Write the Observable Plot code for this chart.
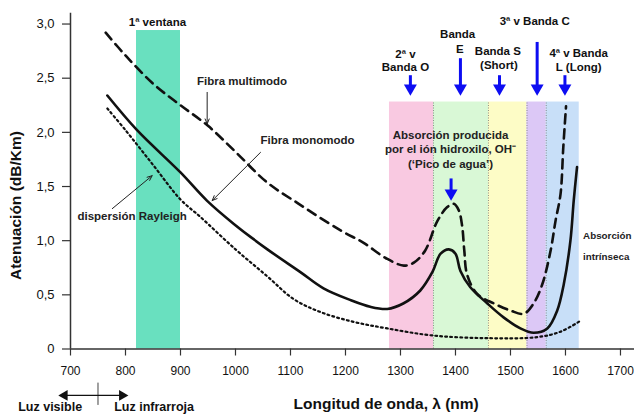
<!DOCTYPE html>
<html>
<head>
<meta charset="utf-8">
<script src="https://cdn.jsdelivr.net/npm/d3@7"></script>
<script src="https://cdn.jsdelivr.net/npm/@observablehq/plot@0.6"></script>
<style>
  html, body { margin: 0; padding: 0; background: #fff; }
  #chart svg { display: block; }
</style>
</head>
<body>
<div id="chart"></div>
<script>
// ---- Data ----
const xTicks = [700, 800, 900, 1000, 1100, 1200, 1300, 1400, 1500, 1600, 1700];
const yTicks = [0, 0.5, 1.0, 1.5, 2.0, 2.5, 3.0];

// Fibra multimodo (dashed)
const multiNm = [764, 800, 850, 900, 950, 1000, 1057, 1115, 1170, 1200, 1233, 1273, 1306, 1325, 1345, 1367, 1385, 1397, 1406, 1412, 1416, 1421, 1439, 1470, 1500, 1524, 1542, 1558, 1573, 1582, 1591, 1596, 1601];
const multiDb = [2.92, 2.71, 2.45, 2.25, 2.06, 1.82, 1.54, 1.34, 1.16, 1.07, 0.98, 0.84, 0.77, 0.80, 0.91, 1.18, 1.31, 1.34, 1.28, 1.14, 0.91, 0.69, 0.51, 0.42, 0.355, 0.325, 0.42, 0.60, 0.91, 1.185, 1.43, 1.86, 2.24];

// Fibra monomodo (solid)
const monoNm = [767, 821, 900, 948, 997, 1058, 1118, 1160, 1210, 1245, 1276, 1305, 1336, 1358, 1373, 1388, 1400, 1409, 1427, 1458, 1488, 1518, 1542, 1567, 1585, 1597, 1609, 1615, 1621];
const monoDb = [2.34, 2.02, 1.63, 1.37, 1.155, 0.92, 0.71, 0.56, 0.45, 0.39, 0.37, 0.42, 0.54, 0.71, 0.88, 0.92, 0.88, 0.72, 0.57, 0.42, 0.29, 0.19, 0.15, 0.19, 0.355, 0.60, 1.0, 1.37, 1.68];

// Dispersión Rayleigh (dotted)
const rayNm = [767, 800, 850, 900, 936, 1000, 1058, 1106, 1155, 1215, 1276, 1358, 1458, 1549, 1591, 1627];
const rayDb = [2.22, 2.02, 1.70, 1.38, 1.22, 0.92, 0.67, 0.46, 0.34, 0.25, 0.19, 0.125, 0.10, 0.11, 0.16, 0.26];

// Windows / bands (nm)
const windowStart = [820];
const windowEnd = [900];
const windowTop = [2.94];
const bandStart = [1280, 1360, 1460, 1530, 1565];
const bandEnd = [1360, 1460, 1530, 1565, 1625];
const bandTop = 2.28;
const bandDividers = [1360, 1460, 1530, 1565];
const bandFill = ["#f9c9e1", "#d9f8d6", "#fdfcc6", "#dcc8f6", "#c8dff8"];

// Blue arrows (nm, top value, tip value)
const blueX = [1318, 1409, 1480, 1548.5, 1599, 1392];
const blueTop = [2.523, 2.68, 2.523, 2.83, 2.523, 1.57];
const blueTip = [2.339, 2.339, 2.339, 2.339, 2.339, 1.37];

// Labels
const bandLabels = [
  {text: "1ª ventana", x: 858, y: 3.02},
  {text: "2ª v", x: 1309, y: 2.723},
  {text: "Banda O", x: 1309, y: 2.60},
  {text: "Banda", x: 1404, y: 2.908},
  {text: "E", x: 1408, y: 2.77},
  {text: "Banda S", x: 1477, y: 2.744},
  {text: "(Short)", x: 1479, y: 2.615},
  {text: "3ª v Banda C", x: 1544, y: 3.024},
  {text: "4ª v Banda", x: 1624, y: 2.729},
  {text: "L (Long)", x: 1624, y: 2.60}
];
const curveLabels = [
  {text: "Fibra multimodo", x: 1012, y: 2.468},
  {text: "Fibra monomodo", x: 1131, y: 1.923},
  {text: "dispersión Rayleigh", x: 812, y: 1.225}
];
const waterLabels = [
  {text: "Absorción producida", x: 1391, y: 1.97},
  {text: "por el ión hidroxilo, OH⁻", x: 1391, y: 1.847},
  {text: "(‘Pico de agua’)", x: 1391, y: 1.708}
];
const intrinsicLabels = [
  {text: "Absorción", x: 1632, y: 1.047},
  {text: "intrínseca", x: 1632, y: 0.847}
];
const lightLabels = [
  {text: "Luz visible", x: 663, y: -0.54},
  {text: "Luz infrarroja", x: 852, y: -0.54}
];
const blackArrows = [
  {x1: 948.5, y1: 2.369, x2: 948.5, y2: 2.078},
  {x1: 1045.5, y1: 1.815, x2: 957.6, y2: 1.37},
  {x1: 776, y1: 1.296, x2: 848.5, y2: 1.60}
];

const toPts = (xs, ys) => xs.map((x, i) => ({nm: x, db: ys[i]}));
const multi = toPts(multiNm, multiDb);
const mono = toPts(monoNm, monoDb);
const ray = toPts(rayNm, rayDb);
const bands = bandStart.map((s, i) => ({x1: s, x2: bandEnd[i], fill: bandFill[i]}));
const windows = windowStart.map((s, i) => ({x1: s, x2: windowEnd[i], top: windowTop[i]}));
const blue = blueX.map((x, i) => ({x, top: blueTop[i], tip: blueTip[i]}));

const fmtY = d => d === 0 ? "0" : d.toFixed(1).replace(".", ",");
const FONT = "'Liberation Sans', Arial, Helvetica, sans-serif";
const BLUE = "#0d0df2";

const chart = Plot.plot({
  width: 634,
  height: 415,
  marginLeft: 70,
  marginRight: 0,
  marginTop: 12.7,
  marginBottom: 66.5,
  style: {fontFamily: FONT, background: "#fff", color: "#111", overflow: "hidden"},
  x: {domain: [700, 1725.5]},
  y: {domain: [0, 3.1]},
  marks: [
    // coloured windows
    Plot.rect(windows, {x1: "x1", x2: "x2", y1: 0, y2: "top", fill: "#69e0bf"}),
    Plot.rect(bands, {x1: "x1", x2: "x2", y1: 0, y2: bandTop, fill: "fill"}),
    Plot.ruleX(bandDividers, {y1: 0, y2: bandTop, stroke: "#777", strokeWidth: 0.8, strokeDasharray: "1,1.5"}),

    // axes
    Plot.axisX({ticks: xTicks, tickSize: 7, tickPadding: 10, fontSize: 12, tickFormat: d => String(d), label: null, stroke: "#333", strokeWidth: 1.2}),
    Plot.axisY({ticks: yTicks, tickSize: 8, tickPadding: 8, fontSize: 13, tickFormat: fmtY, label: null, stroke: "#333", strokeWidth: 1.2}),
    Plot.ruleX([700], {y1: 0, y2: 3.1, stroke: "#333", strokeWidth: 1.5}),
    Plot.ruleY([0], {stroke: "#333", strokeWidth: 1.5}),

    // curves
    Plot.line(ray, {x: "nm", y: "db", curve: "catmull-rom", stroke: "#111", strokeWidth: 2.2, strokeDasharray: "1.8,3.2"}),
    Plot.line(multi, {x: "nm", y: "db", curve: "catmull-rom", stroke: "#111", strokeWidth: 2.6, strokeDasharray: "9,6"}),
    Plot.line(mono, {x: "nm", y: "db", curve: "catmull-rom", stroke: "#111", strokeWidth: 2.6}),

    // black annotation arrows
    Plot.arrow(blackArrows, {x1: "x1", y1: "y1", x2: "x2", y2: "y2", stroke: "#222", strokeWidth: 1, headLength: 8, headAngle: 45}),

    // blue arrows
    Plot.ruleX(blue, {x: "x", y1: "top", y2: "tip", stroke: BLUE, strokeWidth: 3, insetBottom: 6}),
    Plot.dot(blue, {x: "x", y: "tip", symbol: "triangle", r: 4.8, rotate: 180, dy: -7.3, fill: BLUE, stroke: "none"}),

    // labels
    Plot.text(bandLabels, {x: "x", y: "y", text: "text", fontSize: 11.5, fontWeight: "bold", fill: "#111"}),
    Plot.text(curveLabels, {x: "x", y: "y", text: "text", fontSize: 11.5, fontWeight: "bold", fill: "#222"}),
    Plot.text(waterLabels, {x: "x", y: "y", text: "text", fontSize: 11.5, fontWeight: "bold", fill: "#222"}),
    Plot.text(intrinsicLabels, {x: "x", y: "y", text: "text", fontSize: 9.8, fontWeight: "bold", fill: "#222", textAnchor: "start"}),

    // axis titles
    Plot.text(["Atenuación (dB/Km)"], {x: 601.8, y: 1.324, text: d => d, rotate: -90, fontSize: 15.5, fontWeight: "bold", fill: "#111"}),
    Plot.text(["Longitud de onda, λ (nm)"], {x: 1274, y: -0.512, text: d => d, fontSize: 15.5, fontWeight: "bold", fill: "#111"}),

    // visible / infrared
    Plot.text(lightLabels, {x: "x", y: "y", text: "text", fontSize: 12.5, fontWeight: "bold", fill: "#111"}),
    Plot.ruleY([-0.429], {x1: 678.2, x2: 804.9, stroke: "#111", strokeWidth: 1.2, insetLeft: 5, insetRight: 5}),
    Plot.ruleX([750], {y1: -0.315, y2: -0.521, stroke: "#111", strokeWidth: 0.8}),
    Plot.dot([678.2], {x: d => d, y: -0.429, symbol: "triangle", r: 4, rotate: -90, dx: 6, fill: "#111", stroke: "none"}),
    Plot.dot([804.9], {x: d => d, y: -0.429, symbol: "triangle", r: 4, rotate: 90, dx: -6, fill: "#111", stroke: "none"})
  ]
});
document.getElementById("chart").appendChild(chart);
</script>
</body>
</html>
